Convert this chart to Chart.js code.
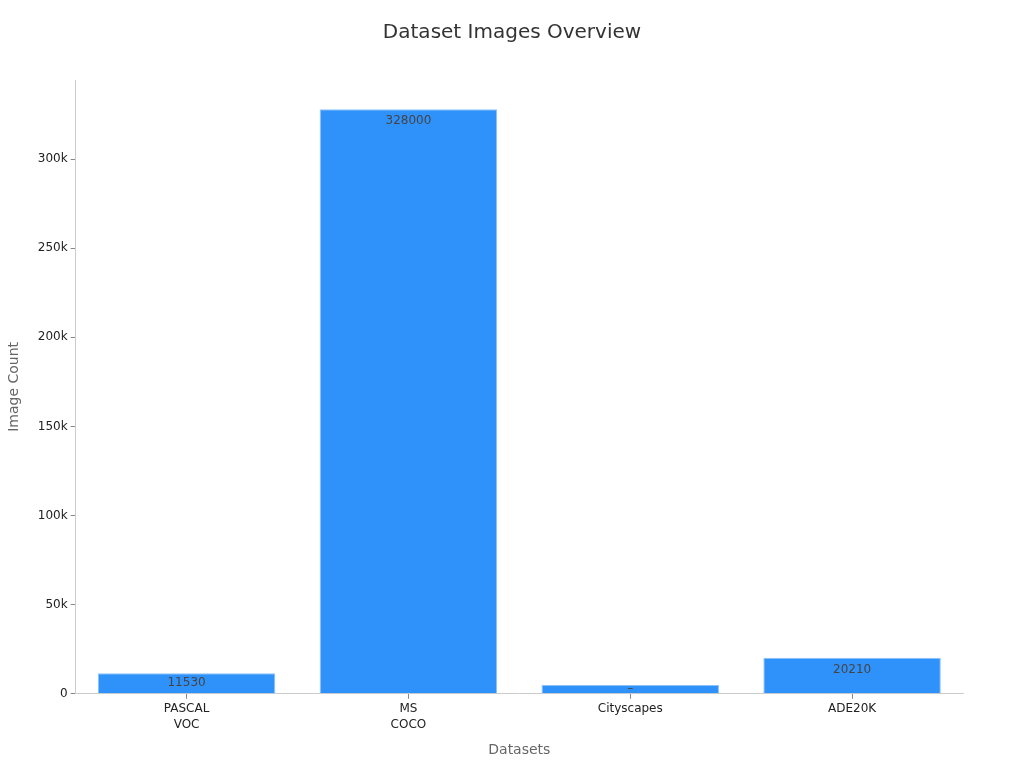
<!DOCTYPE html>
<html><head><meta charset="utf-8">
<script src="https://cdn.jsdelivr.net/npm/chart.js@4"></script>
<style>html,body{margin:0;padding:0;background:#fff}#wrap{width:1024px;height:768px}</style>
</head><body><div id="wrap"><canvas id="c" width="1024" height="768"></canvas></div>
<script>
const categories = [["PASCAL","VOC"],["MS","COCO"],"Cityscapes","ADE20K"];
const imageCounts = [11530, 328000, 5000, 20210];
const barLabels = ["11530", "328000", "–", "20210"];
const yTicks = [0, 50000, 100000, 150000, 200000, 250000, 300000];
const chartTitle = 'Dataset Images Overview';

const labelPlugin = {
  id: 'barLabels',
  afterDatasetsDraw(chart) {
    const ctx = chart.ctx;
    const meta = chart.getDatasetMeta(0);
    ctx.save();
    ctx.font = '12px "DejaVu Sans"';
    ctx.fillStyle = '#444';
    ctx.textAlign = 'center';
    ctx.textBaseline = 'middle';
    meta.data.forEach((bar, i) => {
      const y = Math.min(bar.y + 12, (bar.y + bar.base) / 2);
      ctx.fillText(barLabels[i], bar.x, y);
    });
    ctx.restore();
  },
  afterDraw(chart) {
    const ctx = chart.ctx;
    ctx.save();
    ctx.font = '20px "DejaVu Sans"';
    ctx.fillStyle = '#333';
    ctx.textAlign = 'center';
    ctx.textBaseline = 'middle';
    ctx.fillText(chartTitle, chart.width / 2, 33);
    ctx.restore();
  }
};

new Chart(document.getElementById('c'), {
  type: 'bar',
  data: {
    labels: categories,
    datasets: [{
      data: imageCounts,
      backgroundColor: '#2f92fa',
      borderColor: '#8cc2fb',
      borderWidth: 1,
      categoryPercentage: 1.0,
      barPercentage: 0.8
    }]
  },
  options: {
    responsive: false,
    animation: false,
    devicePixelRatio: 1,
    layout: { padding: { left: 2, right: 61, top: 80, bottom: 5 } },
    plugins: {
      legend: { display: false },
      tooltip: { enabled: false },
      title: { display: false }
    },
    scales: {
      x: {
        grid: { drawOnChartArea: false, drawTicks: true, tickLength: 5, color: '#888', offset: false },
        border: { color: '#ccc' },
        ticks: { color: '#222', font: { family: 'DejaVu Sans', size: 12, lineHeight: 1.35 }, padding: 2 },
        title: { display: true, text: 'Datasets', color: '#666', font: { family: 'DejaVu Sans', size: 14 }, padding: { top: 7 } }
      },
      y: {
        min: 0, max: 344400,
        afterBuildTicks(axis) { axis.ticks = yTicks.map(v => ({ value: v })); },
        grid: { drawOnChartArea: false, drawTicks: true, tickLength: 5, color: '#888' },
        border: { color: '#ccc' },
        ticks: {
          color: '#222', font: { family: 'DejaVu Sans', size: 12 }, padding: 3,
          callback: v => v === 0 ? '0' : (v / 1000) + 'k'
        },
        title: { display: true, text: 'Image Count', color: '#666', font: { family: 'DejaVu Sans', size: 14 }, padding: { bottom: 12 } }
      }
    }
  },
  plugins: [labelPlugin]
});
</script></body></html>
